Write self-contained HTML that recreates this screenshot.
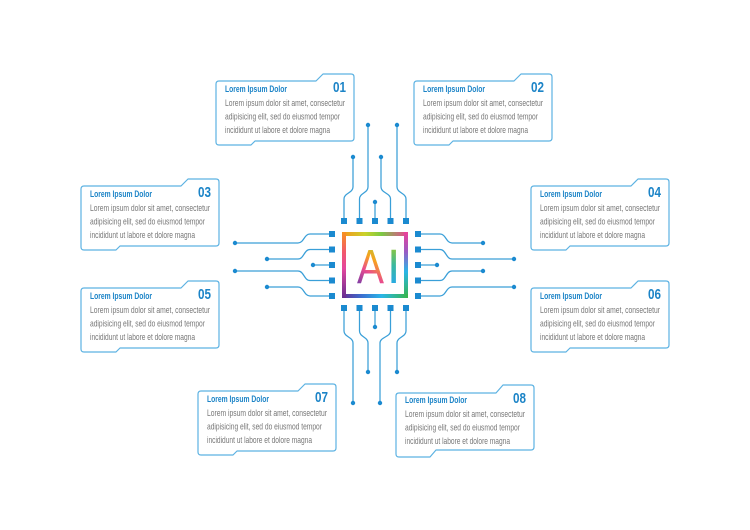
<!DOCTYPE html>
<html>
<head>
<meta charset="utf-8">
<style>
  html,body{margin:0;padding:0;background:#fff;}
  svg{display:block;}
  .card{fill:#fff;stroke:#5cb2e2;stroke-width:1.2;stroke-linejoin:round;}
  .tt{font-family:"Liberation Sans",sans-serif;font-weight:bold;font-size:9.2px;fill:#1c84c7;}
  .num{font-family:"Liberation Sans",sans-serif;font-weight:bold;font-size:14.5px;fill:#1c84c7;}
  .bd{font-family:"Liberation Sans",sans-serif;font-size:9.2px;fill:#777;}
  .tr{fill:none;stroke:#3a9fd8;stroke-width:1.25;stroke-linecap:round;}
  .pin{fill:#1b8ad0;}
  .dot{fill:#1b8ad0;}
</style>
</head>
<body>
<svg width="750" height="530" viewBox="0 0 750 530" xmlns="http://www.w3.org/2000/svg">
  <defs>
    <path id="cardShape" d="M0,10 Q0,7 3,7 L100,7 L107,0 L135,0 Q138,0 138,3 L138,64 Q138,67 135,67 L39,67 L35,71 L3,71 Q0,71 0,68 Z"/>
    <linearGradient id="gTop" x1="0" y1="0" x2="1" y2="0">
      <stop offset="0" stop-color="#f7931e"/>
      <stop offset="0.35" stop-color="#c9d22a"/>
      <stop offset="0.6" stop-color="#7ac943"/>
      <stop offset="1" stop-color="#ec4099"/>
    </linearGradient>
    <linearGradient id="gRight" x1="0" y1="0" x2="0" y2="1">
      <stop offset="0" stop-color="#ec4099"/>
      <stop offset="0.3" stop-color="#9a5bc4"/>
      <stop offset="0.6" stop-color="#29b6e8"/>
      <stop offset="1" stop-color="#39b54a"/>
    </linearGradient>
    <linearGradient id="gBottom" x1="0" y1="0" x2="1" y2="0">
      <stop offset="0" stop-color="#662d91"/>
      <stop offset="0.3" stop-color="#3b6fd0"/>
      <stop offset="0.6" stop-color="#29b6e8"/>
      <stop offset="1" stop-color="#39b54a"/>
    </linearGradient>
    <linearGradient id="gLeft" x1="0" y1="0" x2="0" y2="1">
      <stop offset="0" stop-color="#f7931e"/>
      <stop offset="0.3" stop-color="#f2596b"/>
      <stop offset="0.55" stop-color="#e4479e"/>
      <stop offset="1" stop-color="#662d91"/>
    </linearGradient>
    <linearGradient id="gA" gradientUnits="userSpaceOnUse" x1="357" y1="283" x2="383" y2="248">
      <stop offset="0" stop-color="#7d3ea6"/>
      <stop offset="0.35" stop-color="#e94b8f"/>
      <stop offset="0.65" stop-color="#f7a21e"/>
      <stop offset="1" stop-color="#a9d13a"/>
    </linearGradient>
    <linearGradient id="gI" gradientUnits="userSpaceOnUse" x1="0" y1="248" x2="0" y2="283">
      <stop offset="0" stop-color="#8cc63f"/>
      <stop offset="0.5" stop-color="#39b8a0"/>
      <stop offset="1" stop-color="#29abe2"/>
    </linearGradient>
  </defs>

  <rect width="750" height="530" fill="#fff"/>

  <!-- Traces top -->
  <path class="tr" d="M344,221 V199 C344,193 353,193 353,187 V157"/>
  <path class="tr" d="M359.5,221 V199 C359.5,193 368,193 368,187 V125"/>
  <path class="tr" d="M375,221 V202"/>
  <path class="tr" d="M390.5,221 V199 C390.5,193 381,193 381,187 V157"/>
  <path class="tr" d="M406,221 V199 C406,193 397,193 397,187 V125"/>
  <!-- Traces left -->
  <path class="tr" d="M332,234 H310 C304,234 304,243 298,243 H235"/>
  <path class="tr" d="M332,249.5 H310 C304,249.5 304,259 298,259 H267"/>
  <path class="tr" d="M332,265 H313"/>
  <path class="tr" d="M332,280.5 H310 C304,280.5 304,271 298,271 H235"/>
  <path class="tr" d="M332,296 H310 C304,296 304,287 298,287 H267"/>
  <!-- Traces right -->
  <path class="tr" d="M418,234 H440 C446,234 446,243 452,243 H483"/>
  <path class="tr" d="M418,249.5 H440 C446,249.5 446,259 452,259 H514"/>
  <path class="tr" d="M418,265 H437"/>
  <path class="tr" d="M418,280.5 H440 C446,280.5 446,271 452,271 H483"/>
  <path class="tr" d="M418,296 H440 C446,296 446,287 452,287 H514"/>
  <!-- Traces bottom -->
  <path class="tr" d="M344,308 V331 C344,337 353,337 353,343 V403"/>
  <path class="tr" d="M359.5,308 V331 C359.5,337 368,337 368,343 V372"/>
  <path class="tr" d="M375,308 V327"/>
  <path class="tr" d="M390.5,308 V331 C390.5,337 380,337 380,343 V403"/>
  <path class="tr" d="M406,308 V331 C406,337 397,337 397,343 V372"/>

  <!-- Dots -->
  <g class="dot">
    <circle cx="353" cy="157" r="2.2"/><circle cx="368" cy="125" r="2.2"/><circle cx="375" cy="202" r="2.2"/><circle cx="381" cy="157" r="2.2"/><circle cx="397" cy="125" r="2.2"/>
    <circle cx="235" cy="243" r="2.2"/><circle cx="267" cy="259" r="2.2"/><circle cx="313" cy="265" r="2.2"/><circle cx="235" cy="271" r="2.2"/><circle cx="267" cy="287" r="2.2"/>
    <circle cx="483" cy="243" r="2.2"/><circle cx="514" cy="259" r="2.2"/><circle cx="437" cy="265" r="2.2"/><circle cx="483" cy="271" r="2.2"/><circle cx="514" cy="287" r="2.2"/>
    <circle cx="353" cy="403" r="2.2"/><circle cx="368" cy="372" r="2.2"/><circle cx="375" cy="327" r="2.2"/><circle cx="380" cy="403" r="2.2"/><circle cx="397" cy="372" r="2.2"/>
  </g>

  <!-- Pins -->
  <g class="pin">
    <rect x="341" y="218" width="6" height="6"/><rect x="356.5" y="218" width="6" height="6"/><rect x="372" y="218" width="6" height="6"/><rect x="387.5" y="218" width="6" height="6"/><rect x="403" y="218" width="6" height="6"/>
    <rect x="341" y="305" width="6" height="6"/><rect x="356.5" y="305" width="6" height="6"/><rect x="372" y="305" width="6" height="6"/><rect x="387.5" y="305" width="6" height="6"/><rect x="403" y="305" width="6" height="6"/>
    <rect x="329" y="231" width="6" height="6"/><rect x="329" y="246.5" width="6" height="6"/><rect x="329" y="262" width="6" height="6"/><rect x="329" y="277.5" width="6" height="6"/><rect x="329" y="293" width="6" height="6"/>
    <rect x="415" y="231" width="6" height="6"/><rect x="415" y="246.5" width="6" height="6"/><rect x="415" y="262" width="6" height="6"/><rect x="415" y="277.5" width="6" height="6"/><rect x="415" y="293" width="6" height="6"/>
  </g>

  <!-- Chip -->
  <rect x="342" y="232" width="66" height="66" fill="#fff"/>
  <rect x="342" y="232" width="66" height="4" fill="url(#gTop)"/>
  <rect x="404" y="232" width="4" height="66" fill="url(#gRight)"/>
  <rect x="342" y="294" width="66" height="4" fill="url(#gBottom)"/>
  <rect x="342" y="232" width="4" height="66" fill="url(#gLeft)"/>
  <text x="357" y="283" font-family="Liberation Sans, sans-serif" font-size="48" textLength="27" lengthAdjust="spacingAndGlyphs" fill="url(#gA)">A</text>
  <text x="387" y="283" font-family="Liberation Sans, sans-serif" font-size="48" fill="url(#gI)">I</text>

  <!-- Cards -->
  <g transform="translate(216,74)">
    <use href="#cardShape" class="card"/>
    <text class="tt" x="9" y="18" textLength="62" lengthAdjust="spacingAndGlyphs">Lorem Ipsum Dolor</text>
    <text class="num" x="117" y="18" textLength="13" lengthAdjust="spacingAndGlyphs">01</text>
    <text class="bd" x="9" y="32" textLength="120" lengthAdjust="spacingAndGlyphs">Lorem ipsum dolor sit amet, consectetur</text>
    <text class="bd" x="9" y="45.5" textLength="115" lengthAdjust="spacingAndGlyphs">adipisicing elit, sed do eiusmod tempor</text>
    <text class="bd" x="9" y="59" textLength="105" lengthAdjust="spacingAndGlyphs">incididunt ut labore et dolore magna</text>
  </g>
  <g transform="translate(414,74)">
    <use href="#cardShape" class="card"/>
    <text class="tt" x="9" y="18" textLength="62" lengthAdjust="spacingAndGlyphs">Lorem Ipsum Dolor</text>
    <text class="num" x="117" y="18" textLength="13" lengthAdjust="spacingAndGlyphs">02</text>
    <text class="bd" x="9" y="32" textLength="120" lengthAdjust="spacingAndGlyphs">Lorem ipsum dolor sit amet, consectetur</text>
    <text class="bd" x="9" y="45.5" textLength="115" lengthAdjust="spacingAndGlyphs">adipisicing elit, sed do eiusmod tempor</text>
    <text class="bd" x="9" y="59" textLength="105" lengthAdjust="spacingAndGlyphs">incididunt ut labore et dolore magna</text>
  </g>
  <g transform="translate(81,179)">
    <use href="#cardShape" class="card"/>
    <text class="tt" x="9" y="18" textLength="62" lengthAdjust="spacingAndGlyphs">Lorem Ipsum Dolor</text>
    <text class="num" x="117" y="18" textLength="13" lengthAdjust="spacingAndGlyphs">03</text>
    <text class="bd" x="9" y="32" textLength="120" lengthAdjust="spacingAndGlyphs">Lorem ipsum dolor sit amet, consectetur</text>
    <text class="bd" x="9" y="45.5" textLength="115" lengthAdjust="spacingAndGlyphs">adipisicing elit, sed do eiusmod tempor</text>
    <text class="bd" x="9" y="59" textLength="105" lengthAdjust="spacingAndGlyphs">incididunt ut labore et dolore magna</text>
  </g>
  <g transform="translate(531,179)">
    <use href="#cardShape" class="card"/>
    <text class="tt" x="9" y="18" textLength="62" lengthAdjust="spacingAndGlyphs">Lorem Ipsum Dolor</text>
    <text class="num" x="117" y="18" textLength="13" lengthAdjust="spacingAndGlyphs">04</text>
    <text class="bd" x="9" y="32" textLength="120" lengthAdjust="spacingAndGlyphs">Lorem ipsum dolor sit amet, consectetur</text>
    <text class="bd" x="9" y="45.5" textLength="115" lengthAdjust="spacingAndGlyphs">adipisicing elit, sed do eiusmod tempor</text>
    <text class="bd" x="9" y="59" textLength="105" lengthAdjust="spacingAndGlyphs">incididunt ut labore et dolore magna</text>
  </g>
  <g transform="translate(81,281)">
    <use href="#cardShape" class="card"/>
    <text class="tt" x="9" y="18" textLength="62" lengthAdjust="spacingAndGlyphs">Lorem Ipsum Dolor</text>
    <text class="num" x="117" y="18" textLength="13" lengthAdjust="spacingAndGlyphs">05</text>
    <text class="bd" x="9" y="32" textLength="120" lengthAdjust="spacingAndGlyphs">Lorem ipsum dolor sit amet, consectetur</text>
    <text class="bd" x="9" y="45.5" textLength="115" lengthAdjust="spacingAndGlyphs">adipisicing elit, sed do eiusmod tempor</text>
    <text class="bd" x="9" y="59" textLength="105" lengthAdjust="spacingAndGlyphs">incididunt ut labore et dolore magna</text>
  </g>
  <g transform="translate(531,281)">
    <use href="#cardShape" class="card"/>
    <text class="tt" x="9" y="18" textLength="62" lengthAdjust="spacingAndGlyphs">Lorem Ipsum Dolor</text>
    <text class="num" x="117" y="18" textLength="13" lengthAdjust="spacingAndGlyphs">06</text>
    <text class="bd" x="9" y="32" textLength="120" lengthAdjust="spacingAndGlyphs">Lorem ipsum dolor sit amet, consectetur</text>
    <text class="bd" x="9" y="45.5" textLength="115" lengthAdjust="spacingAndGlyphs">adipisicing elit, sed do eiusmod tempor</text>
    <text class="bd" x="9" y="59" textLength="105" lengthAdjust="spacingAndGlyphs">incididunt ut labore et dolore magna</text>
  </g>
  <g transform="translate(198,384)">
    <use href="#cardShape" class="card"/>
    <text class="tt" x="9" y="18" textLength="62" lengthAdjust="spacingAndGlyphs">Lorem Ipsum Dolor</text>
    <text class="num" x="117" y="18" textLength="13" lengthAdjust="spacingAndGlyphs">07</text>
    <text class="bd" x="9" y="32" textLength="120" lengthAdjust="spacingAndGlyphs">Lorem ipsum dolor sit amet, consectetur</text>
    <text class="bd" x="9" y="45.5" textLength="115" lengthAdjust="spacingAndGlyphs">adipisicing elit, sed do eiusmod tempor</text>
    <text class="bd" x="9" y="59" textLength="105" lengthAdjust="spacingAndGlyphs">incididunt ut labore et dolore magna</text>
  </g>
  <g transform="translate(396,384)">
    <path class="card" d="M0,12 Q0,9 3,9 L100,9 L107,1 L135,1 Q138,1 138,4 L138,63 Q138,66 135,66 L40,66 L34,73 L3,73 Q0,73 0,70 Z"/>
    <text class="tt" x="9" y="19" textLength="62" lengthAdjust="spacingAndGlyphs">Lorem Ipsum Dolor</text>
    <text class="num" x="117" y="19" textLength="13" lengthAdjust="spacingAndGlyphs">08</text>
    <text class="bd" x="9" y="33" textLength="120" lengthAdjust="spacingAndGlyphs">Lorem ipsum dolor sit amet, consectetur</text>
    <text class="bd" x="9" y="46.5" textLength="115" lengthAdjust="spacingAndGlyphs">adipisicing elit, sed do eiusmod tempor</text>
    <text class="bd" x="9" y="60" textLength="105" lengthAdjust="spacingAndGlyphs">incididunt ut labore et dolore magna</text>
  </g>
</svg>
</body>
</html>
